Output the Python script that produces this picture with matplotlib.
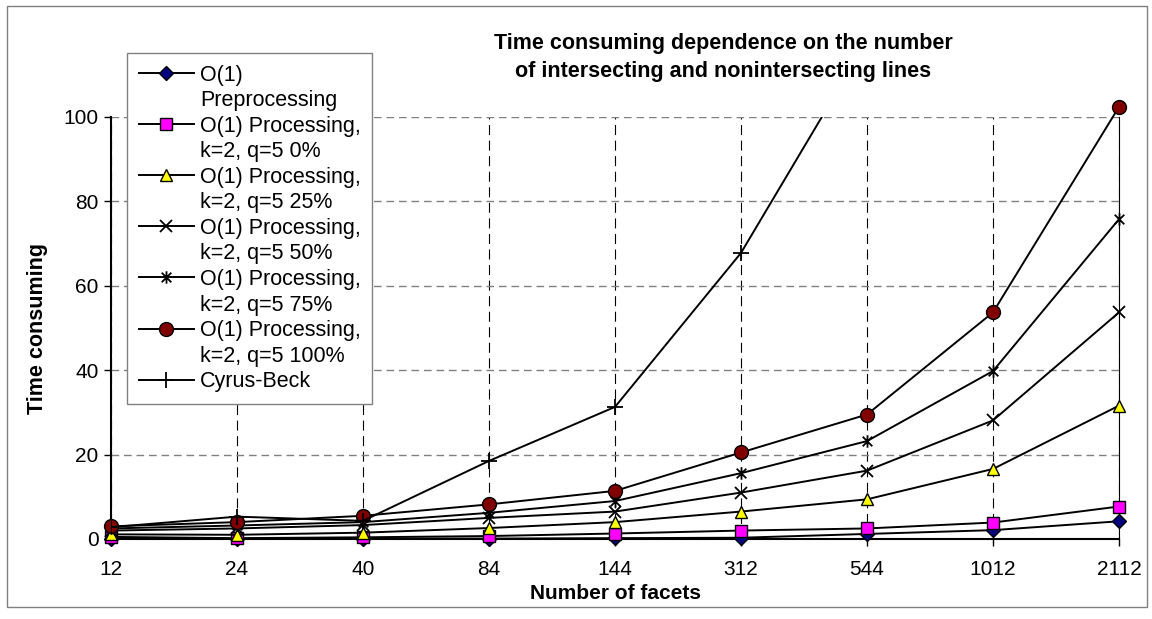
import numpy as np
import matplotlib
matplotlib.use('Agg')
import matplotlib.pyplot as plt
from matplotlib.path import Path
from matplotlib.lines import Line2D
from matplotlib.patches import Rectangle

plt.rcParams['font.family'] = ['Liberation Sans', 'DejaVu Sans']

# data
facets = ['12', '24', '40', '84', '144', '312', '544', '1012', '2112']
preproc = [0.1, 0.05, 0.1, 0.1, 0.2, 0.3, 1.2, 2.1, 4.2]
q0 = [0.5, 0.2, 0.4, 0.7, 1.3, 2.0, 2.5, 3.9, 7.7]
q25 = [1.1, 1.0, 1.5, 2.6, 4.0, 6.5, 9.4, 16.6, 31.6]
q50 = [2.0, 2.5, 3.3, 5.0, 6.5, 11.0, 16.2, 28.1, 53.7]
q75 = [2.5, 3.2, 4.0, 6.2, 9.0, 15.6, 23.2, 39.8, 75.8]
q100 = [3.0, 4.0, 5.5, 8.2, 11.4, 20.5, 29.5, 53.7, 102.4]
cyrus = [2.8, 5.3, 4.3, 18.5, 31.3, 67.8, 118.0, 240.0, 520.0]

labels = ['O(1)\nPreprocessing',
          'O(1) Processing,\nk=2, q=5 0%',
          'O(1) Processing,\nk=2, q=5 25%',
          'O(1) Processing,\nk=2, q=5 50%',
          'O(1) Processing,\nk=2, q=5 75%',
          'O(1) Processing,\nk=2, q=5 100%',
          'Cyrus-Beck']

# excel style star: x plus a vertical bar
star = Path([(-1, -1), (1, 1), (-1, 1), (1, -1), (0, -1.3), (0, 1.3)],
            [Path.MOVETO, Path.LINETO, Path.MOVETO, Path.LINETO, Path.MOVETO, Path.LINETO])

styles = [dict(marker='D', ms=7.5, mfc='#000080'),
          dict(marker='s', ms=8.5, mfc='#FF00FF'),
          dict(marker='^', ms=9, mfc='#FFFF00'),
          dict(marker='x', ms=9, mew=1.3),
          dict(marker=star, ms=9, mew=1.3),
          dict(marker='o', ms=10, mfc='#800000'),
          dict(marker='+', ms=12, mew=1.3)]
series = [preproc, q0, q25, q50, q75, q100, cyrus]

fig = plt.figure(figsize=(11.52, 6.19), dpi=100)
W, H = 1152, 619
ax = fig.add_axes([111 / W, 1 - 539 / H, 1008 / W, 422 / H])

x = np.arange(len(facets))
handles = []
for vals, st in zip(series, styles):
    clip = vals is not cyrus
    ln, = ax.plot(x, vals, color='black', lw=1.4, mec='black',
                  mew=st.pop('mew', 1.0), clip_on=not clip, zorder=3, **st)
    handles.append(ln)

ax.set_xlim(0, 8)
ax.set_ylim(0, 100)
ax.set_xticks(x)
ax.set_xticklabels(facets)
ax.set_yticks(np.arange(0, 101, 20))
ax.tick_params(axis='both', labelsize=15, direction='out', length=5, width=1)
ax.tick_params(axis='x', pad=10)
ax.tick_params(axis='y', pad=4)

ax.yaxis.grid(True, color='#808080', lw=1.0, linestyle=(0, (5.5, 3.5)))
ax.xaxis.grid(True, color='black', lw=0.8, linestyle=(0, (9, 5)))
ax.set_axisbelow(True)
ax.spines['top'].set_visible(False)
ax.spines['left'].set_linewidth(1.5)
ax.spines['bottom'].set_linewidth(1.5)
ax.spines['right'].set_linewidth(0.8)

ax.set_xlabel('Number of facets', fontsize=15, fontweight='bold', va='center')
ax.xaxis.set_label_coords(0.5, -0.13)
ax.set_ylabel('Time consuming', fontsize=15.5, fontweight='bold', va='center')
ax.yaxis.set_label_coords(-0.073, 0.5)

fig.text(723 / W, 1 - 44 / H, 'Time consuming dependence on the number',
         ha='center', va='center', fontsize=15.5, fontweight='bold')
fig.text(723 / W, 1 - 72 / H, 'of intersecting and nonintersecting lines',
         ha='center', va='center', fontsize=15.5, fontweight='bold')

# legend: one row per text line, handle sits on the first line
leg_h, leg_l = [], []
blank = Line2D([], [], color='none')
for h, lab in zip(handles, labels):
    parts = lab.split('\n')
    leg_h.append(h)
    leg_l.append(parts[0])
    for p in parts[1:]:
        leg_h.append(blank)
        leg_l.append(p)
leg = fig.legend(leg_h, leg_l, loc='upper left', bbox_to_anchor=(127 / W, 1 - 53 / H),
                 bbox_transform=fig.transFigure, borderaxespad=0, fontsize=15.5,
                 handlelength=2.55, handletextpad=0.28, labelspacing=0.21,
                 borderpad=0.55, fancybox=False, framealpha=1, edgecolor='#808080')
leg.get_frame().set_linewidth(1.0)

fig.patches.append(Rectangle((7 / W, 1 - 607 / H), 1140 / W, 601 / H,
                             transform=fig.transFigure, fill=False,
                             edgecolor='#808080', lw=1.0))

fig.savefig('out.png', dpi=100)
